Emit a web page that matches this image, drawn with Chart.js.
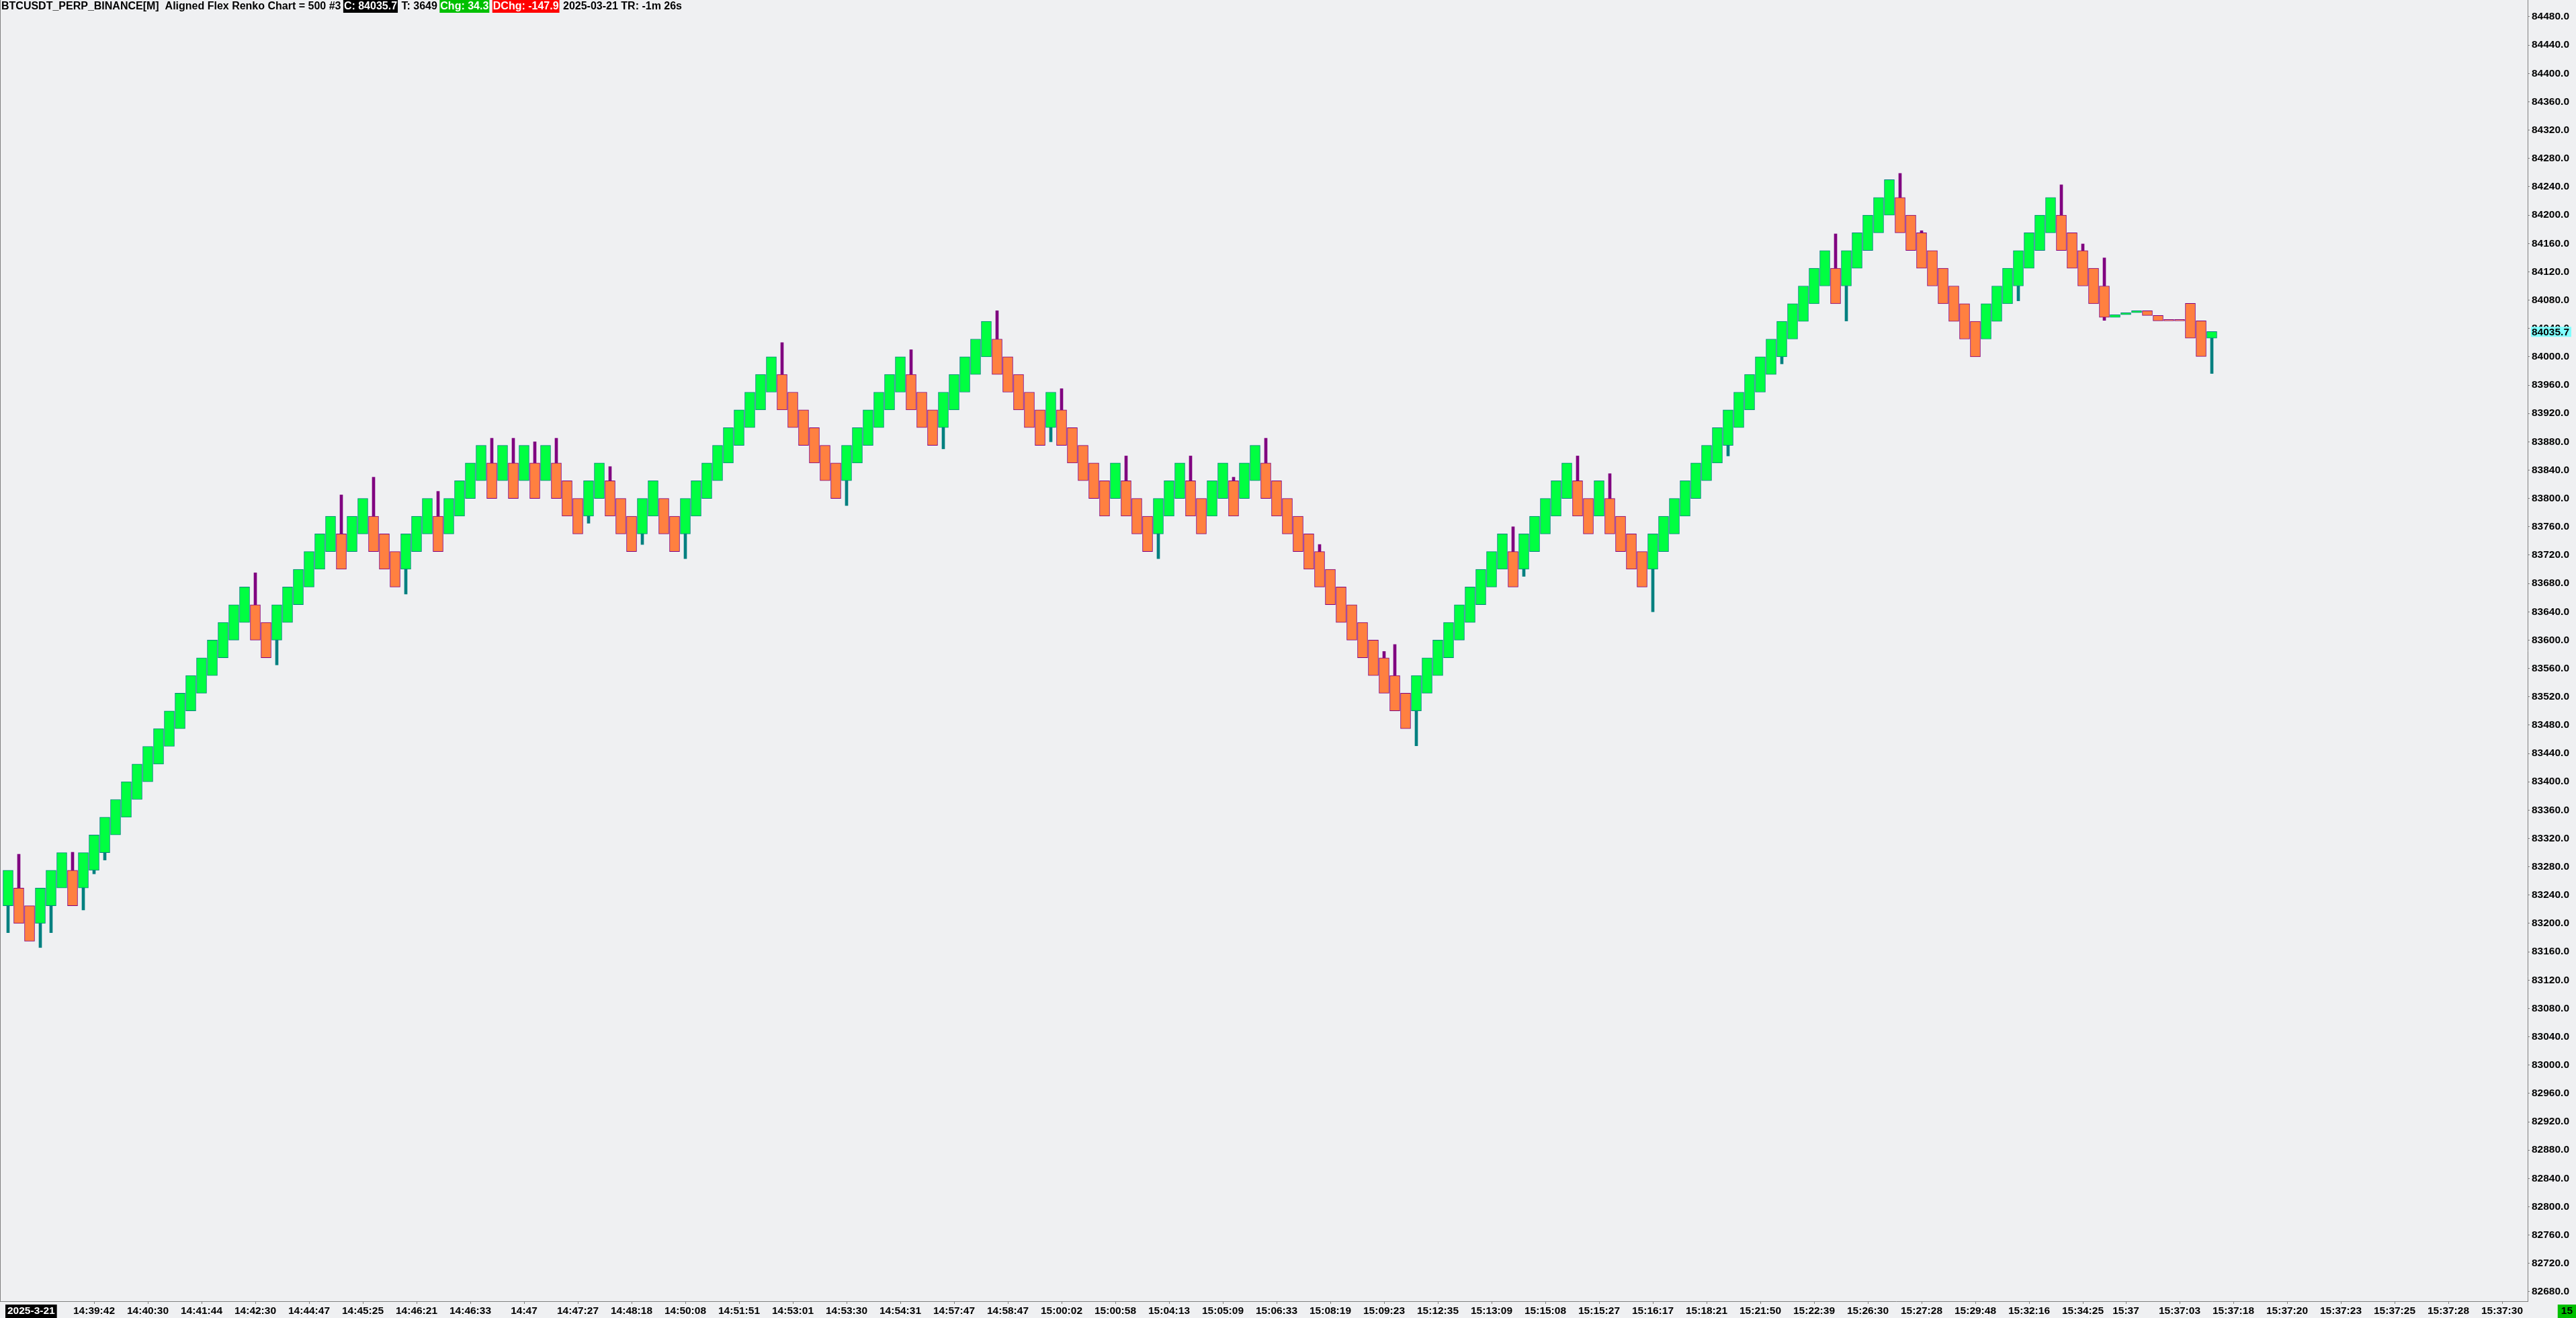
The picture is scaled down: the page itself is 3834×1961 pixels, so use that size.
<!DOCTYPE html>
<html>
<head>
<meta charset="utf-8">
<title>BTCUSDT_PERP_BINANCE Aligned Flex Renko</title>
<script src="https://cdn.jsdelivr.net/npm/chart.js@4.4.1/dist/chart.umd.min.js"></script>
<style>
  html, body { margin: 0; padding: 0; background: #eff0f2; overflow: hidden; }
  canvas { display: block; }
</style>
</head>
<body>
<canvas id="renko" width="3834" height="1961"></canvas>
<script>
// brick open / close, one entry per renko brick (left to right)
const brickOpen = [
  83225, 83250, 83225, 83200, 83225, 83250, 83275, 83250, 83275, 83300,
  83325, 83350, 83375, 83400, 83425, 83450, 83475, 83500, 83525, 83550,
  83575, 83600, 83625, 83650, 83625, 83600, 83625, 83650, 83675, 83700,
  83725, 83750, 83725, 83750, 83775, 83750, 83725, 83700, 83725, 83750,
  83775, 83750, 83775, 83800, 83825, 83850, 83825, 83850, 83825, 83850,
  83825, 83850, 83825, 83800, 83775, 83800, 83825, 83800, 83775, 83750,
  83775, 83800, 83775, 83750, 83775, 83800, 83825, 83850, 83875, 83900,
  83925, 83950, 83975, 83950, 83925, 83900, 83875, 83850, 83825, 83850,
  83875, 83900, 83925, 83950, 83975, 83950, 83925, 83900, 83925, 83950,
  83975, 84000, 84025, 84000, 83975, 83950, 83925, 83900, 83925, 83900,
  83875, 83850, 83825, 83800, 83825, 83800, 83775, 83750, 83775, 83800,
  83825, 83800, 83775, 83800, 83825, 83800, 83825, 83850, 83825, 83800,
  83775, 83750, 83725, 83700, 83675, 83650, 83625, 83600, 83575, 83550,
  83525, 83500, 83525, 83550, 83575, 83600, 83625, 83650, 83675, 83700,
  83725, 83700, 83725, 83750, 83775, 83800, 83825, 83800, 83775, 83800,
  83775, 83750, 83725, 83700, 83725, 83750, 83775, 83800, 83825, 83850,
  83875, 83900, 83925, 83950, 83975, 84000, 84025, 84050, 84075, 84100,
  84125, 84100, 84125, 84150, 84175, 84200, 84225, 84200, 84175, 84150,
  84125, 84100, 84075, 84050, 84025, 84050, 84075, 84100, 84125, 84150,
  84175, 84200, 84175, 84150, 84125, 84100, 84055.6, 84059.4, 84062.2, 84065.1,
  84058.4, 84050.8, 84050.8, 84075.5, 84050.8, 84026.2
];
const brickClose = [
  83275, 83200, 83175, 83250, 83275, 83300, 83225, 83300, 83325, 83350,
  83375, 83400, 83425, 83450, 83475, 83500, 83525, 83550, 83575, 83600,
  83625, 83650, 83675, 83600, 83575, 83650, 83675, 83700, 83725, 83750,
  83775, 83700, 83775, 83800, 83725, 83700, 83675, 83750, 83775, 83800,
  83725, 83800, 83825, 83850, 83875, 83800, 83875, 83800, 83875, 83800,
  83875, 83800, 83775, 83750, 83825, 83850, 83775, 83750, 83725, 83800,
  83825, 83750, 83725, 83800, 83825, 83850, 83875, 83900, 83925, 83950,
  83975, 84000, 83925, 83900, 83875, 83850, 83825, 83800, 83875, 83900,
  83925, 83950, 83975, 84000, 83925, 83900, 83875, 83950, 83975, 84000,
  84025, 84050, 83975, 83950, 83925, 83900, 83875, 83950, 83875, 83850,
  83825, 83800, 83775, 83850, 83775, 83750, 83725, 83800, 83825, 83850,
  83775, 83750, 83825, 83850, 83775, 83850, 83875, 83800, 83775, 83750,
  83725, 83700, 83675, 83650, 83625, 83600, 83575, 83550, 83525, 83500,
  83475, 83550, 83575, 83600, 83625, 83650, 83675, 83700, 83725, 83750,
  83675, 83750, 83775, 83800, 83825, 83850, 83775, 83750, 83825, 83750,
  83725, 83700, 83675, 83750, 83775, 83800, 83825, 83850, 83875, 83900,
  83925, 83950, 83975, 84000, 84025, 84050, 84075, 84100, 84125, 84150,
  84075, 84150, 84175, 84200, 84225, 84250, 84175, 84150, 84125, 84100,
  84075, 84050, 84025, 84000, 84075, 84100, 84125, 84150, 84175, 84200,
  84225, 84150, 84125, 84100, 84075, 84055.6, 84059.4, 84062.2, 84065.1, 84058.4,
  84050.8, 84050.8, 84050.8, 84026.2, 84000.4, 84035.7
];
// [brick index, wick extreme]
const upperWicks = [
  [1, 83297.7], [6, 83300.5], [23, 83695], [31, 83805], [34, 83830], [40, 83810],
  [45, 83885], [47, 83885], [49, 83880], [51, 83885], [56, 83845], [72, 84020],
  [84, 84010], [92, 84065], [98, 83955], [104, 83860], [110, 83860], [114, 83830],
  [117, 83885], [122, 83735], [128, 83584], [129, 83593.8], [140, 83760], [146, 83860],
  [149, 83835], [170, 84173.5], [176, 84258.9], [178, 84178], [191, 84242.8], [193, 84159.3],
  [195, 84139.6]
];
const lowerWicks = [
  [0, 83187], [3, 83166], [4, 83187], [7, 83219], [8, 83270], [9, 83289.5],
  [25, 83565], [37, 83665], [54, 83765], [59, 83735], [63, 83715], [78, 83790],
  [87, 83870], [97, 83880], [107, 83715], [131, 83450.8], [141, 83690],
  [153, 83640], [160, 83860], [165, 83990], [171, 84050.5], [187, 84079], [195, 84051.4],
  [205, 83976.4]
];
// time axis labels and the brick slot they sit under
const tickIndex = [8, 13, 18, 23, 28, 33, 38, 43, 48, 53, 58, 63, 68, 73, 78, 83, 88, 93, 98, 103,
  108, 113, 118, 123, 128, 133, 138, 143, 148, 153, 158, 163, 168, 173, 178, 183, 188, 193, 197, 202,
  207, 212, 217, 222, 227, 232];
const tickLabels = ['14:39:42', '14:40:30', '14:41:44', '14:42:30', '14:44:47', '14:45:25', '14:46:21',
  '14:46:33', '14:47', '14:47:27', '14:48:18', '14:50:08', '14:51:51', '14:53:01', '14:53:30', '14:54:31',
  '14:57:47', '14:58:47', '15:00:02', '15:00:58', '15:04:13', '15:05:09', '15:06:33', '15:08:19', '15:09:23',
  '15:12:35', '15:13:09', '15:15:08', '15:15:27', '15:16:17', '15:18:21', '15:21:50', '15:22:39', '15:26:30',
  '15:27:28', '15:29:48', '15:32:16', '15:34:25', '15:37', '15:37:03', '15:37:18', '15:37:20', '15:37:23',
  '15:37:25', '15:37:28', '15:37:30'];
const lastPrice = 84035.7;
const headerParts = [
  { text: 'BTCUSDT_PERP_BINANCE[M]  Aligned Flex Renko Chart = 500 #3 ', color: '#000' },
  { text: 'C: 84035.7', color: '#fff', bg: '#000' },
  { text: ' T: 3649 ', color: '#000' },
  { text: 'Chg: 34.3', color: '#fff', bg: '#00c000' },
  { text: ' ', color: '#000' },
  { text: 'DChg: -147.9', color: '#fff', bg: '#ff0000' },
  { text: ' 2025-03-21 TR: -1m 26s', color: '#000' }
];
const sessionDate = '2025-3-21';
const barsLeft = '15';

const UP_FILL = '#00ff41', UP_LINE = '#008080';
const DN_FILL = '#ff8040', DN_LINE = '#800080';
const AXIS = '#808080';
const FONT = '"Liberation Sans", Arial, sans-serif';

const isUp = i => brickClose[i] > brickOpen[i];
const brickTop = i => Math.max(brickOpen[i], brickClose[i]);
const brickBottom = i => Math.min(brickOpen[i], brickClose[i]);

const bricks = brickOpen.map((o, i) => ({ x: i, y: [o, brickClose[i]] }));
const wickUp = upperWicks.map(([i, v]) => ({ x: i, y: [brickTop(i), v] }));
const wickDown = lowerWicks.map(([i, v]) => ({ x: i, y: [v, brickBottom(i)] }));

const wickColor = ctx => (ctx.raw && isUp(ctx.raw.x)) ? UP_LINE : DN_LINE;

const decor = {
  id: 'decor',
  beforeDraw(chart) {
    const c = chart.ctx;
    c.save();
    c.fillStyle = '#eff0f2';
    c.fillRect(0, 0, chart.width, chart.height);
    c.restore();
  },
  afterDraw(chart) {
    const c = chart.ctx;
    const area = chart.chartArea;
    c.save();
    // left frame line
    c.strokeStyle = AXIS;
    c.lineWidth = 1;
    c.beginPath();
    c.moveTo(0.5, 0);
    c.lineTo(0.5, area.bottom);
    c.stroke();

    // header
    c.font = 'bold 16px ' + FONT;
    c.textBaseline = 'middle';
    let x = 2;
    headerParts.forEach(p => {
      const w = c.measureText(p.text).width;
      if (p.bg) {
        c.fillStyle = p.bg;
        c.fillRect(x - 1, 0, w + 2, 19);
      }
      c.fillStyle = p.color;
      c.fillText(p.text, x, 10);
      x += w + (p.bg ? 2 : 0);
    });

    // last price marker on the price axis
    const yScale = chart.scales.y;
    const py = yScale.getPixelForValue(lastPrice);
    c.font = 'bold 15.5px ' + FONT;
    const pw = c.measureText(lastPrice.toFixed(1)).width;
    c.fillStyle = '#80ffff';
    c.fillRect(area.right + 5, py - 7, pw + 4, 15);
    c.fillStyle = '#000';
    c.fillText(lastPrice.toFixed(1), area.right + 6, py + 1);

    // session date box and bar counter
    const by = area.bottom + 5;
    c.textAlign = 'center';
    const dw = c.measureText(sessionDate).width;
    c.fillStyle = '#000';
    c.fillRect(8, by, dw + 6, chart.height - by);
    c.fillStyle = '#fff';
    c.fillText(sessionDate, 8 + (dw + 6) / 2, by + 10);
    const bw = c.measureText(barsLeft).width + 10;
    c.fillStyle = '#00c000';
    c.fillRect(chart.width - bw, by, bw, chart.height - by);
    c.fillStyle = '#000';
    c.fillText(barsLeft, chart.width - bw / 2, by + 10);
    c.restore();
  }
};

new Chart(document.getElementById('renko'), {
  type: 'bar',
  data: {
    datasets: [
      {
        data: bricks,
        backgroundColor: ctx => (ctx.raw && isUp(ctx.raw.x)) ? UP_FILL : DN_FILL,
        borderColor: ctx => (ctx.raw && isUp(ctx.raw.x)) ? UP_LINE : DN_LINE,
        borderWidth: 1,
        borderSkipped: false,
        barThickness: 15,
        minBarLength: 2,
        grouped: false
      },
      { data: wickUp, backgroundColor: wickColor, borderWidth: 0, barThickness: 4, grouped: false },
      { data: wickDown, backgroundColor: wickColor, borderWidth: 0, barThickness: 4, grouped: false }
    ]
  },
  options: {
    responsive: false,
    animation: false,
    devicePixelRatio: 1,
    layout: { padding: 0 },
    plugins: { legend: { display: false }, tooltip: { enabled: false }, title: { display: false } },
    scales: {
      x: {
        type: 'linear',
        position: 'bottom',
        min: -0.75,
        max: 234.375,
        offset: false,
        afterFit: s => { s.height = 25; s.paddingLeft = 0; s.paddingRight = 0; },
        afterBuildTicks: s => { s.ticks = tickIndex.map(v => ({ value: v })); },
        grid: { drawOnChartArea: false, offset: false, tickLength: 4, color: AXIS },
        border: { color: AXIS },
        ticks: {
          autoSkip: false,
          maxRotation: 0,
          padding: 1,
          color: '#000',
          font: { family: FONT, size: 15.5, weight: 'bold' },
          callback: v => tickLabels[tickIndex.indexOf(v)]
        }
      },
      y: {
        type: 'linear',
        position: 'right',
        min: 82666.7,
        max: 84503.7,
        afterFit: s => { s.width = 72; s.paddingTop = 0; s.paddingBottom = 0; },
        grid: { drawOnChartArea: false, tickLength: 3, color: AXIS },
        border: { color: AXIS },
        ticks: {
          stepSize: 40,
          includeBounds: false,
          padding: 3,
          color: '#000',
          font: { family: FONT, size: 15.5, weight: 'bold' },
          callback: v => v.toFixed(1)
        }
      }
    }
  },
  plugins: [decor]
});
</script>
</body>
</html>
